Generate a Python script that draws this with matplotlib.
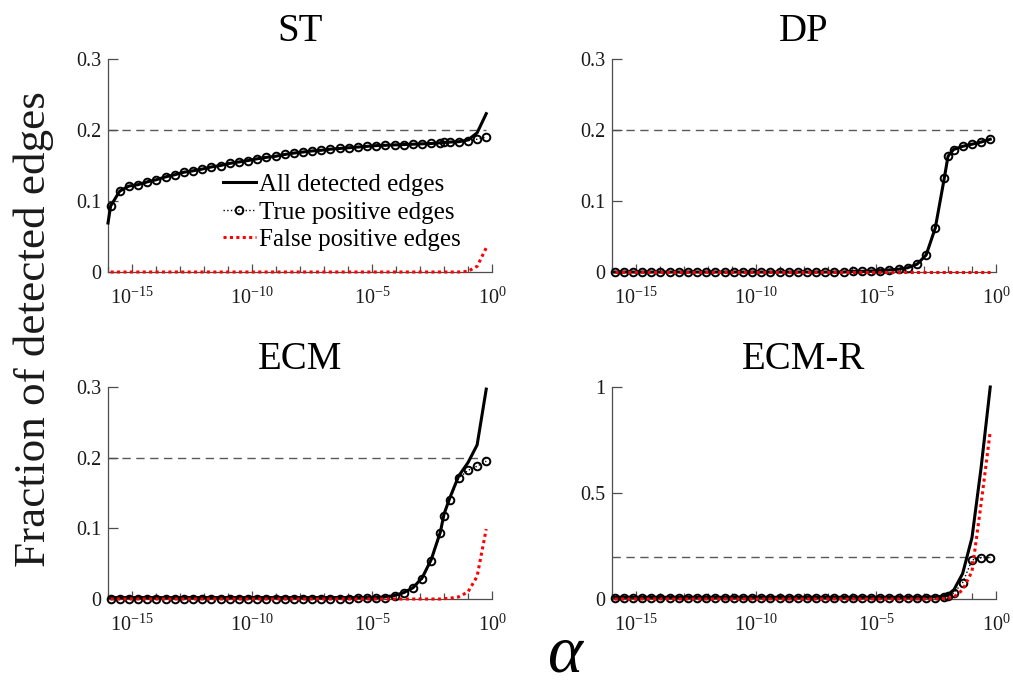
import matplotlib
matplotlib.use("Agg")
import matplotlib.pyplot as plt
import numpy as np
from matplotlib.ticker import FixedLocator, NullFormatter

plt.rcParams["font.family"] = ["Liberation Serif", "DejaVu Serif"]
plt.rcParams["mathtext.fontset"] = "custom"
plt.rcParams["mathtext.rm"] = "Liberation Serif"
plt.rcParams["mathtext.it"] = "Liberation Serif:italic"
plt.rcParams["mathtext.default"] = "rm"

# alpha grid (log10 exponents)
alpha_exp = [-15.89, -15.51, -15.13, -14.75, -14.36, -13.98, -13.60, -13.22, -12.84, -12.46,
             -12.07, -11.69, -11.31, -10.93, -10.55, -10.16, -9.78, -9.40, -9.02, -8.64,
             -8.26, -7.87, -7.49, -7.11, -6.73, -6.35, -5.97, -5.58, -5.20, -4.82,
             -4.44, -4.06, -3.68, -3.29, -2.91, -2.53, -2.15, -2.00, -1.77, -1.39,
             -1.00, -0.62, -0.24]
alpha_left = -16.0
target = 0.2

titles = ["ST", "DP", "ECM", "ECM-R"]

# --- ST
st_all_exp = [alpha_left] + alpha_exp
st_all = [0.069, 0.093, 0.114, 0.121, 0.123, 0.127, 0.130, 0.134, 0.137, 0.1405, 0.1425,
          0.145, 0.148, 0.150, 0.153, 0.155, 0.157, 0.1595, 0.1615, 0.163, 0.1655,
          0.1675, 0.169, 0.1705, 0.1715, 0.173, 0.174, 0.175, 0.176, 0.177, 0.178,
          0.1785, 0.179, 0.1795, 0.180, 0.1805, 0.181, 0.182, 0.1825, 0.183, 0.1835,
          0.186, 0.196, 0.223]
st_tp = [0.093, 0.114, 0.121, 0.123, 0.127, 0.130, 0.134, 0.137, 0.1405, 0.1425,
         0.145, 0.148, 0.150, 0.153, 0.155, 0.157, 0.1595, 0.1615, 0.163, 0.1655,
         0.1675, 0.169, 0.1705, 0.1715, 0.173, 0.174, 0.175, 0.176, 0.177, 0.178,
         0.1785, 0.179, 0.1795, 0.180, 0.1805, 0.181, 0.182, 0.1825, 0.183, 0.1835,
         0.185, 0.187, 0.190]
st_fp = [0.0] * 40 + [0.001, 0.008, 0.034]

# --- DP
dp_tp = [0.0] * 26 + [0.001, 0.001, 0.0015, 0.002, 0.003, 0.004, 0.006, 0.011, 0.024,
                      0.062, 0.133, 0.163, 0.1725, 0.177, 0.180, 0.183, 0.187]
dp_all = dp_tp
dp_fp = [0.0] * 43

# --- ECM
ecm_all = [0.002] * 29 + [0.002, 0.003, 0.005, 0.009, 0.016, 0.030, 0.056, 0.095, 0.120,
                          0.142, 0.174, 0.193, 0.218, 0.297]
ecm_tp = [0.0005] * 26 + [0.0005, 0.001, 0.001, 0.001, 0.002, 0.004, 0.008, 0.015, 0.028,
                          0.054, 0.093, 0.118, 0.140, 0.171, 0.182, 0.188, 0.195]
ecm_fp = [0.0] * 37 + [0.0005, 0.001, 0.003, 0.010, 0.032, 0.099]

# --- ECM-R
ecmr_all = [0.008] * 34 + [0.009, 0.010, 0.014, 0.022, 0.040, 0.120, 0.290, 0.620, 1.0]
ecmr_tp = [0.003] * 35 + [0.004, 0.008, 0.014, 0.027, 0.077, 0.184, 0.195, 0.195]
ecmr_fp = [0.0] * 36 + [0.002, 0.004, 0.008, 0.043, 0.130, 0.450, 0.790]

panels = [
    (st_all_exp, st_all, st_tp, st_fp),
    (alpha_exp, dp_all, dp_tp, dp_fp),
    (alpha_exp, ecm_all, ecm_tp, ecm_fp),
    (alpha_exp, ecmr_all, ecmr_tp, ecmr_fp),
]
yticks = [[0, 0.1, 0.2, 0.3]] * 3 + [[0, 0.5, 1]]
yticklabels = [["0", "0.1", "0.2", "0.3"]] * 3 + [["0", "0.5", "1"]]
ylims = [0.3, 0.3, 0.3, 1.0]
xtick_exp = [-15, -10, -5, 0]
xtick_labels = ["$10^{-15}$", "$10^{-10}$", "$10^{-5}$", "$10^{0}$"]

W, H = 1013, 685
rects = [
    [108 / W, 1 - 272 / H, 384 / W, 213 / H],
    [612 / W, 1 - 272 / H, 384 / W, 213 / H],
    [108 / W, 1 - 599 / H, 384 / W, 212 / H],
    [612 / W, 1 - 599 / H, 384 / W, 212 / H],
]

fig = plt.figure(figsize=(W / 100, H / 100), dpi=100)
spine_col = "0.3"

for i, (all_exp, all_y, tp_y, fp_y) in enumerate(panels):
    ax = fig.add_axes(rects[i])
    x_all = 10.0 ** np.array(all_exp)
    x = 10.0 ** np.array(alpha_exp)
    ax.hlines(target, 10.0 ** alpha_left, x[-1], colors="0.35", linestyles=(0, (6, 4)), lw=1.0, zorder=1)
    l1, = ax.plot(x_all, all_y, "-", color="black", lw=2.2, clip_on=False, zorder=3,
                  label="All detected edges")
    l2, = ax.plot(x, tp_y, ":", color="black", lw=1.0, marker="o", ms=5.5, mfc="none",
                  mec="black", mew=1.4, clip_on=False, zorder=4, label="True positive edges")
    l3, = ax.plot(x, fp_y, color="red", lw=2.2, linestyle=(0, (1, 1.1)), clip_on=False,
                  zorder=5, label="False positive edges")

    ax.set_xscale("log")
    ax.set_xlim(10.0 ** alpha_left, 1.0)
    ax.set_ylim(0, ylims[i])
    ax.xaxis.set_major_locator(FixedLocator([10.0 ** e for e in xtick_exp]))
    ax.set_xticklabels(xtick_labels)
    ax.xaxis.set_minor_locator(FixedLocator(10.0 ** np.arange(-16, 1)))
    ax.xaxis.set_minor_formatter(NullFormatter())
    ax.set_yticks(yticks[i])
    ax.set_yticklabels(yticklabels[i])

    for s in ["top", "right"]:
        ax.spines[s].set_visible(False)
    for s in ["left", "bottom"]:
        ax.spines[s].set_color(spine_col)
        ax.spines[s].set_linewidth(0.9)
        ax.spines[s].set_zorder(2)
    ax.tick_params(axis="both", which="major", direction="in", labelsize=14.5,
                   color=spine_col, width=0.9, labelcolor="0.1")
    ax.tick_params(axis="x", which="major", length=6, pad=11)
    ax.tick_params(axis="x", which="minor", direction="in", length=4, color=spine_col, width=0.9)
    ax.tick_params(axis="y", which="major", length=7, pad=5)
    ax.set_title(titles[i], fontsize=28, pad=13)

    if i == 0:
        ax.legend(handles=[l1, l2, l3], loc="center left", bbox_to_anchor=(0.3, 0.28),
                  frameon=False, fontsize=18, handlelength=1.3, handletextpad=0.15,
                  labelspacing=0.2, borderpad=0, borderaxespad=0)

fig.text(0.033, 0.52, "Fraction of detected edges", rotation=90, fontsize=32.5,
         ha="center", va="center", color="0.1")
fig.text(0.557, 0.02, "α", fontsize=48, style="italic", ha="center", va="baseline")

fig.savefig("out.png", dpi=100)
